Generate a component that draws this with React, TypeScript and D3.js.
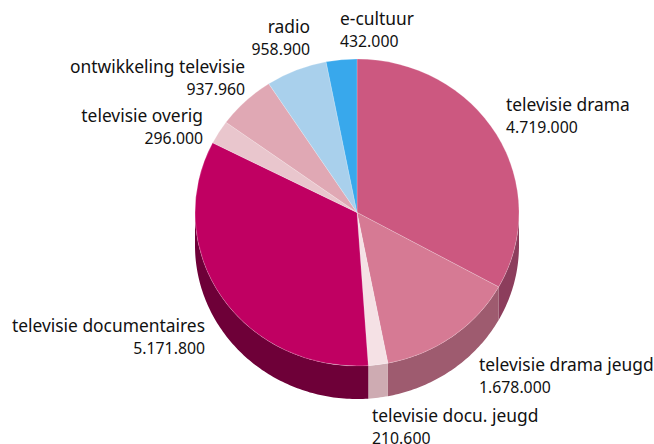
import React from "react";
import * as d3 from "d3";

const categories = ["televisie drama","televisie drama jeugd","televisie docu. jeugd","televisie documentaires","televisie overig","ontwikkeling televisie","radio","e-cultuur"];
// The slices in the picture are not proportional to their printed labels, so slice sizes are read off the picture (degrees).
const sliceDegrees = [119,50,7,121,9,21,22,11];
const valueLabels = ["4.719.000","1.678.000","210.600","5.171.800","296.000","937.960","958.900","432.000"];
const topColors = ["#cc5880","#d67a94","#f5e1e5","#c00062","#e9c6cd","#e0a8b4","#a9d0ec","#38a8ec"];
const sideColors = ["#8c3d5c","#9e5b6f","#ceabb2","#6e0038","#a08a8e","#9c7580","#7690a4","#2774a4"];
const labelX = [506,479,372,205,203,245,310,340];
const labelY = [111,371,422,332,122,73,33,25];
const labelAnchor = ["start","start","start","end","end","end","end","start"];

const W = 654, H = 444, cx = 357, cy = 212.5, rx = 162, ry = 153.5, depth = 33;

export default function App() {
  const pie = d3.pie<number>().sort(null).startAngle(0).endAngle(2 * Math.PI);
  const arcs = pie(sliceDegrees);
  const arc = d3.arc<d3.PieArcDatum<number>>().innerRadius(0).outerRadius(rx);
  const px = (a: number) => cx + rx * Math.sin(a);
  const py = (a: number) => cy - ry * Math.cos(a);
  const sidePath = (a0: number, a1: number) => {
    const lo = Math.max(a0, Math.PI / 2), hi = Math.min(a1, 1.5 * Math.PI);
    if (hi <= lo) return "";
    const n = Math.max(2, Math.ceil((hi - lo) * 60));
    const pts = d3.range(n + 1).map(i => lo + (hi - lo) * i / n);
    const top = pts.map(a => [px(a), py(a)] as [number, number]);
    const bot = pts.slice().reverse().map(a => [px(a), py(a) + depth] as [number, number]);
    return d3.line()([...top, ...bot]) + "Z";
  };
  return (
    <svg width={W} height={H} style={{ position: "absolute", left: 0, top: 0 }} fontFamily="'Noto Sans', sans-serif" fill="#111">
      {arcs.map((d, i) => (
        <path key={"s" + i} d={sidePath(d.startAngle, d.endAngle)} fill={sideColors[i]} />
      ))}
      <g transform={`translate(${cx},${cy}) scale(1,${ry / rx})`}>
        {arcs.map((d, i) => (
          <path key={"t" + i} d={arc(d) as string} fill={topColors[i]} stroke="#fff" strokeOpacity={0.35} strokeWidth={0.6} />
        ))}
      </g>
      {categories.map((c, i) => (
        <text key={c} x={labelX[i]} y={labelY[i]} textAnchor={labelAnchor[i] as any}>
          <tspan x={labelX[i]} fontSize={17.4}>{c}</tspan>
          <tspan x={labelX[i]} dy={21.5} fontSize={15.8}>{valueLabels[i]}</tspan>
        </text>
      ))}
    </svg>
  );
}
